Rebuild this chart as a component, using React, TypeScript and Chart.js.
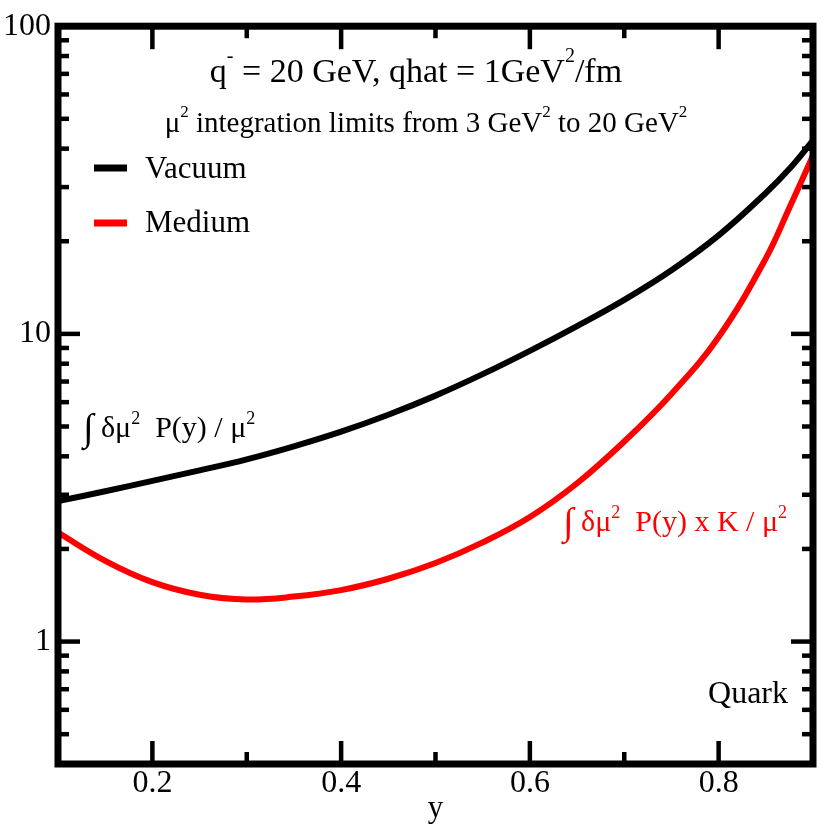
import { useEffect, useRef } from 'react'
import { Chart, registerables } from 'chart.js'

Chart.register(...registerables)

// momentum fraction y
const yFrac = [0.1, 0.15, 0.2, 0.25, 0.3, 0.35, 0.4, 0.45, 0.5, 0.55, 0.6, 0.65, 0.7, 0.75, 0.8, 0.85, 0.875, 0.9]
// ∫ δμ² P(y) / μ²
const vacuum = [2.86, 3.08, 3.33, 3.6, 3.91, 4.31, 4.81, 5.46, 6.3, 7.4, 8.81, 10.6, 12.9, 16.1, 20.9, 28.7, 34.4, 42.5]
// ∫ δμ² P(y) x K / μ²
const medium = [2.26, 1.83, 1.56, 1.42, 1.37, 1.4, 1.47, 1.6, 1.8, 2.1, 2.54, 3.27, 4.47, 6.38, 9.77, 17.6, 25.7, 38.0]

const xMajor = [0.2, 0.4, 0.6, 0.8]
const xMinor = [0.3, 0.5, 0.7]
const yMajor = [1, 10, 100]
const yMinor = [0.4, 0.5, 0.6, 0.7, 0.8, 0.9, 2, 3, 4, 5, 6, 7, 8, 9, 20, 30, 40, 50, 60, 70, 80, 90]

const FONT = '"Liberation Serif", "DejaVu Serif", serif'

type Run = { t: string; sup?: boolean; big?: boolean }

const drawRuns = (
  ctx: CanvasRenderingContext2D,
  runs: Run[],
  x: number,
  y: number,
  size: number,
  rise: number,
  align: 'left' | 'center' | 'right',
  color: string
) => {
  const sizeOf = (r: Run) => (r.sup ? Math.round(size * 0.6) : r.big ? Math.round(size * 1.25) : size)
  let w = 0
  for (const r of runs) {
    ctx.font = `${sizeOf(r)}px ${FONT}`
    w += ctx.measureText(r.t).width
  }
  let cx = align === 'center' ? x - w / 2 : align === 'right' ? x - w : x
  ctx.textAlign = 'left'
  ctx.textBaseline = 'alphabetic'
  ctx.fillStyle = color
  for (const r of runs) {
    ctx.font = `${sizeOf(r)}px ${FONT}`
    ctx.fillText(r.t, cx, r.sup ? y - rise : r.big ? y + 3 : y)
    cx += ctx.measureText(r.t).width
  }
}

const frame = {
  id: 'frame',
  afterDatasetsDraw(chart: Chart) {
    const { ctx, chartArea: a, scales } = chart
    const line = (x1: number, y1: number, x2: number, y2: number) => {
      ctx.beginPath()
      ctx.moveTo(x1, y1)
      ctx.lineTo(x2, y2)
      ctx.stroke()
    }
    ctx.save()
    ctx.strokeStyle = '#000'
    ctx.lineCap = 'butt'
    ctx.lineWidth = 4.5
    const xt = (vals: number[], len: number) => {
      for (const v of vals) {
        const px = scales.x.getPixelForValue(v)
        line(px, a.bottom, px, a.bottom - len)
        line(px, a.top, px, a.top + len)
      }
    }
    const yt = (vals: number[], len: number) => {
      for (const v of vals) {
        const py = scales.y.getPixelForValue(v)
        line(a.left, py, a.left + len, py)
        line(a.right, py, a.right - len, py)
      }
    }
    xt(xMajor, 23)
    xt(xMinor, 12)
    yt(yMajor, 22)
    yt(yMinor, 11)
    ctx.lineWidth = 7
    ctx.strokeRect(a.left, a.top, a.right - a.left, a.bottom - a.top)
    ctx.restore()
  },
  afterDraw(chart: Chart) {
    const ctx = chart.ctx
    ctx.save()
    drawRuns(ctx, [{ t: 'q' }, { t: '-', sup: true }, { t: ' = 20 GeV, qhat = 1GeV' }, { t: '2', sup: true }, { t: '/fm' }],
      416, 82, 34, 20, 'center', '#000')
    drawRuns(ctx, [{ t: 'μ' }, { t: '2', sup: true }, { t: ' integration limits from 3 GeV' }, { t: '2', sup: true },
      { t: ' to 20 GeV' }, { t: '2', sup: true }], 426, 132, 29, 15, 'center', '#000')

    // legend
    ctx.lineWidth = 7
    ctx.strokeStyle = '#000'
    ctx.beginPath(); ctx.moveTo(94, 168); ctx.lineTo(127, 168); ctx.stroke()
    drawRuns(ctx, [{ t: 'Vacuum' }], 145, 178, 31, 0, 'left', '#000')
    ctx.strokeStyle = '#ff0000'
    ctx.beginPath(); ctx.moveTo(94, 223); ctx.lineTo(127, 223); ctx.stroke()
    drawRuns(ctx, [{ t: 'Medium' }], 145, 232, 31, 0, 'left', '#000')

    drawRuns(ctx, [{ t: '∫', big: true }, { t: ' δμ' }, { t: '2', sup: true }, { t: '  P(y) / μ' }, { t: '2', sup: true }],
      83, 437, 30, 13, 'left', '#000')
    drawRuns(ctx, [{ t: '∫', big: true }, { t: ' δμ' }, { t: '2', sup: true }, { t: '  P(y) x K / μ' }, { t: '2', sup: true }],
      787, 531, 30, 13, 'right', '#ff0000')
    drawRuns(ctx, [{ t: 'Quark' }], 788, 703, 32, 0, 'right', '#000')
    ctx.restore()
  }
}

const App = () => {
  const chartRef = useRef<HTMLCanvasElement>(null)
  const chartInstance = useRef<Chart | null>(null)

  useEffect(() => {
    if (!chartRef.current) return
    if (chartInstance.current) chartInstance.current.destroy()

    chartInstance.current = new Chart(chartRef.current, {
      type: 'line',
      data: {
        datasets: [
          {
            label: 'Vacuum',
            data: yFrac.map((x, i) => ({ x, y: vacuum[i] })),
            borderColor: '#000000',
            borderWidth: 6,
            pointRadius: 0,
            tension: 0.4
          },
          {
            label: 'Medium',
            data: yFrac.map((x, i) => ({ x, y: medium[i] })),
            borderColor: '#ff0000',
            borderWidth: 6,
            pointRadius: 0,
            tension: 0.4
          }
        ]
      },
      options: {
        responsive: false,
        animation: false,
        layout: { padding: { top: 23, right: 17, bottom: 0, left: 0 } },
        plugins: {
          legend: { display: false },
          tooltip: { enabled: false }
        },
        scales: {
          x: {
            type: 'linear',
            min: 0.1,
            max: 0.9,
            grid: { display: false, drawTicks: false },
            border: { display: false },
            afterBuildTicks: (axis: any) => {
              axis.ticks = xMajor.map(value => ({ value }))
            },
            afterFit: (axis: any) => {
              axis.height = 66
            },
            ticks: {
              autoSkip: false,
              maxRotation: 0,
              padding: 0,
              color: '#000',
              font: { family: FONT, size: 32 },
              callback: (v: any) => Number(v).toFixed(1)
            },
            title: {
              display: true,
              text: 'y',
              color: '#000',
              font: { family: FONT, size: 31 },
              padding: { top: 0, bottom: 3 }
            }
          },
          y: {
            type: 'logarithmic',
            min: 0.4,
            max: 100,
            grid: { display: false, drawTicks: false },
            border: { display: false },
            afterBuildTicks: (axis: any) => {
              axis.ticks = yMajor.map(value => ({ value }))
            },
            afterFit: (axis: any) => {
              axis.width = 58
            },
            ticks: {
              autoSkip: false,
              padding: 7,
              color: '#000',
              font: { family: FONT, size: 32 },
              callback: (v: any) => String(v)
            }
          }
        }
      },
      plugins: [frame]
    })

    return () => {
      if (chartInstance.current) {
        chartInstance.current.destroy()
        chartInstance.current = null
      }
    }
  }, [])

  return (
    <div style={{ position: 'fixed', left: 0, top: 0, width: 830, height: 830, background: '#fff' }}>
      <canvas ref={chartRef} width={830} height={830} />
    </div>
  )
}

export default App
